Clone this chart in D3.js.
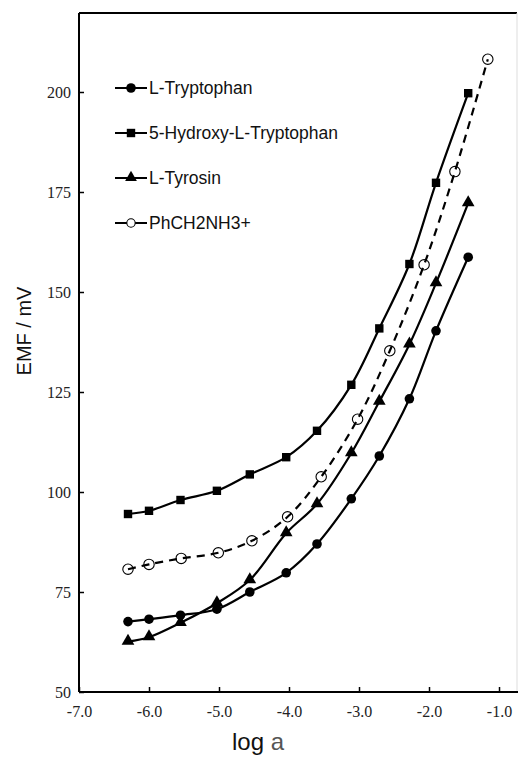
<!DOCTYPE html>
<html>
<head>
<meta charset="utf-8">
<script src="https://cdn.jsdelivr.net/npm/d3@7"></script>
<style>
  body { margin: 0; background: #fff; }
  svg { display: block; }
  .legend text { font-family: "Liberation Sans", Arial, sans-serif; font-size: 17.5px; fill: #111; }
</style>
</head>
<body>
<script>

var W = 518, H = 757;
var margin = { top: 13, right: 1, bottom: 65, left: 79 };

// log a values (x) shared by all series
var logA = [-6.3, -6.0, -5.55, -5.03, -4.56, -4.04, -3.6, -3.11, -2.71, -2.28, -1.9, -1.44];
var logA_benzyl = [-6.3, -6.0, -5.54, -5.01, -4.53, -4.02, -3.54, -3.02, -2.56, -2.07, -1.63, -1.16];

var emfTryptophan = [67.6, 68.2, 69.2, 70.7, 75.0, 79.8, 87.0, 98.3, 109.0, 123.3, 140.3, 158.7];
var emfHydroxy    = [94.5, 95.3, 98.0, 100.3, 104.4, 108.7, 115.3, 126.8, 140.9, 157.0, 177.3, 199.7];
var emfTyrosin    = [62.6, 63.7, 67.3, 72.2, 78.0, 89.7, 97.0, 109.7, 122.6, 136.9, 152.2, 172.2];
var emfBenzyl     = [80.7, 81.9, 83.4, 84.8, 87.8, 93.8, 103.8, 118.2, 135.3, 156.8, 180.1, 208.2];

var seriesNames = ["L-Tryptophan", "5-Hydroxy-L-Tryptophan", "L-Tyrosin", "PhCH2NH3+"];
var seriesSymbols = ["circle", "square", "triangle", "open"];

var xTicks = [-7, -6, -5, -4, -3, -2, -1];
var yTicks = [50, 75, 100, 125, 150, 175, 200];

var series = [
    { name: seriesNames[0], sym: seriesSymbols[0], xs: logA, ys: emfTryptophan },
    { name: seriesNames[1], sym: seriesSymbols[1], xs: logA, ys: emfHydroxy },
    { name: seriesNames[2], sym: seriesSymbols[2], xs: logA, ys: emfTyrosin },
    { name: seriesNames[3], sym: seriesSymbols[3], xs: logA_benzyl, ys: emfBenzyl }
];

var svg = d3.select("body").append("svg")
    .attr("width", W)
    .attr("height", H);

var x = d3.scaleLinear().domain([-7, -0.743]).range([margin.left, W - margin.right]);
var y = d3.scaleLinear().domain([50, 219.75]).range([H - margin.bottom, margin.top]);

// frame: top line and faint right edge
svg.append("line")
    .attr("x1", margin.left).attr("x2", W - margin.right)
    .attr("y1", margin.top).attr("y2", margin.top)
    .attr("stroke", "#000").attr("stroke-width", 2);
svg.append("line")
    .attr("x1", W - margin.right).attr("x2", W - margin.right)
    .attr("y1", margin.top).attr("y2", H - margin.bottom)
    .attr("stroke", "#ddd").attr("stroke-width", 1);

var xAxis = svg.append("g")
    .attr("transform", "translate(0," + (H - margin.bottom) + ")")
    .call(d3.axisBottom(x).tickValues(xTicks).tickSize(-5).tickPadding(14)
        .tickFormat(function(d){ return d.toFixed(1); }));

var yAxis = svg.append("g")
    .attr("transform", "translate(" + margin.left + ",0)")
    .call(d3.axisLeft(y).tickValues(yTicks).tickSize(-5).tickPadding(8));

[xAxis, yAxis].forEach(function(g){
    g.attr("font-family", "Liberation Serif, Times New Roman, serif").attr("font-size", 16);
    g.select(".domain").attr("stroke", "#000").attr("stroke-width", 2);
    g.selectAll(".tick line").attr("stroke", "#000").attr("stroke-width", 1.5);
    g.selectAll(".tick text").attr("fill", "#222");
});
yAxis.select(".domain").attr("d", "M0," + y(219.75) + "V" + y(50));
xAxis.select(".domain").attr("d", "M" + margin.left + ",0H" + W);

// axis titles
svg.append("text")
    .attr("transform", "translate(31,331) rotate(-90)")
    .attr("text-anchor", "middle")
    .style("font-family", "Liberation Sans, Arial, sans-serif")
    .style("font-size", "20px")
    .attr("fill", "#111")
    .text("EMF / mV");

var xt = svg.append("text")
    .attr("x", 258).attr("y", 750)
    .attr("text-anchor", "middle")
    .style("font-family", "Liberation Sans, Arial, sans-serif")
    .style("font-size", "24px")
    .attr("fill", "#111");
xt.append("tspan").text("log ");
xt.append("tspan").attr("fill", "#555").text("a");

var line = d3.line()
    .x(function(d){ return x(d[0]); })
    .y(function(d){ return y(d[1]); })
    .curve(d3.curveCatmullRom.alpha(0.5));

function drawMarker(g, sym, cx, cy, legend) {
    if (sym == "circle") {
        g.append("circle").attr("cx", cx).attr("cy", cy).attr("r", 4.8).attr("fill", "#000");
    } else if (sym == "square") {
        g.append("rect").attr("x", cx - 4.2).attr("y", cy - 4.2).attr("width", 8.4).attr("height", 8.4).attr("fill", "#000");
    } else if (sym == "triangle") {
        g.append("path")
            .attr("d", d3.symbol().type(d3.symbolTriangle).size(legend ? 60 : 70)())
            .attr("transform", "translate(" + cx + "," + (cy - 0.5) + ")")
            .attr("fill", "#000");
    } else {
        g.append("circle").attr("cx", cx).attr("cy", cy).attr("r", legend ? 4.2 : 5.2)
            .attr("fill", legend ? "#fff" : "none").attr("stroke", "#000").attr("stroke-width", 1.1);
    }
}

series.forEach(function(s){
    var pts = s.xs.map(function(v, i){ return [v, s.ys[i]]; });
    var g = svg.append("g");
    g.append("path")
        .datum(pts)
        .attr("d", line)
        .attr("fill", "none")
        .attr("stroke", "#000")
        .attr("stroke-width", 2.2)
        .attr("stroke-dasharray", s.sym == "open" ? "8,6" : null);
    pts.forEach(function(p){
        drawMarker(g, s.sym, x(p[0]), y(p[1]), false);
    });
});

// legend
var legend = svg.append("g").attr("class", "legend");
var legendY = [88, 133, 178, 223];
series.forEach(function(s, i){
    var ly = legendY[i];
    legend.append("line")
        .attr("x1", 115).attr("x2", 147)
        .attr("y1", ly).attr("y2", ly)
        .attr("stroke", "#000").attr("stroke-width", 2);
    drawMarker(legend, s.sym, 131, ly, true);
    legend.append("text")
        .attr("x", 149).attr("y", ly + 6)
        .text(s.name);
});

</script>
</body>
</html>
